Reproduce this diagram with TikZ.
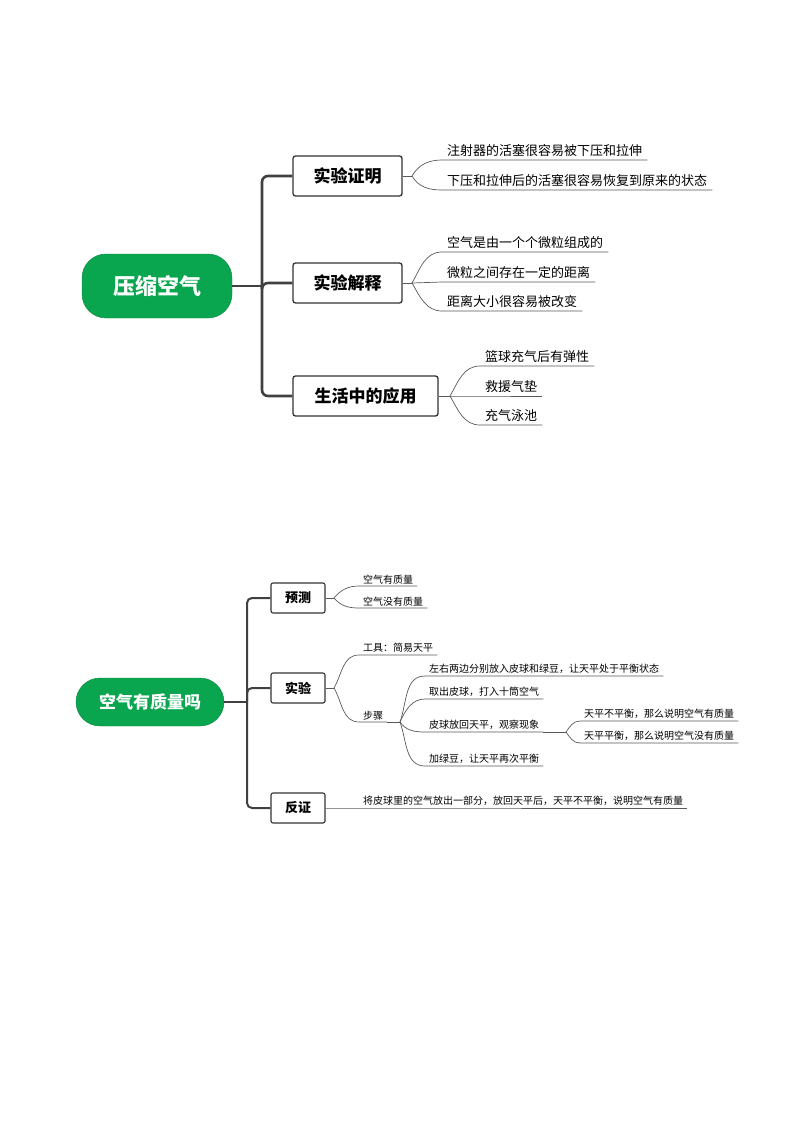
\documentclass[tikz,border=0pt]{standalone}
\usepackage{fontspec}
\setmainfont{Noto Sans CJK SC}
\begin{document}
\begin{tikzpicture}[x=1pt,y=-1pt,
 root/.style={rounded corners=24pt,fill=rootgreen,draw=rootgreen!80!black,text=white,font=\bfseries,inner sep=0pt},
 br/.style={draw=black!80,line width=1.3pt,rounded corners=2.5pt,font=\bfseries,inner sep=0pt,minimum height=40pt},
 brs/.style={draw=black!80,line width=1.1pt,rounded corners=2pt,font=\bfseries\fontsize{13}{15}\selectfont,inner sep=0pt,minimum height=30pt,minimum width=54pt},
 trunk/.style={draw=black!75,line width=2.6pt,rounded corners=6pt},
 trunks/.style={draw=black!75,line width=2pt,rounded corners=5pt},
 lk/.style={draw=black!65,line width=0.7pt},
 leaf/.style={anchor=south west,inner xsep=5pt,inner ysep=3pt,font=\fontsize{13}{15}\selectfont},
 leafs/.style={anchor=south west,inner xsep=4pt,inner ysep=2pt,font=\fontsize{10}{12}\selectfont}]
\definecolor{rootgreen}{HTML}{0AA64F}
\useasboundingbox (0,0) rectangle (794,1123);
% ===== top map
\node[root,minimum width=150pt,minimum height=64pt,font=\bfseries\fontsize{22}{26}\selectfont] (r1) at (157,286) {压缩空气};
\node[br,minimum width=109pt,font=\bfseries\fontsize{17}{20}\selectfont] (b1) at (347.5,176) {实验证明};
\node[br,minimum width=109pt,font=\bfseries\fontsize{17}{20}\selectfont] (b2) at (347.5,283) {实验解释};
\node[br,minimum width=145pt,font=\bfseries\fontsize{17}{20}\selectfont] (b3) at (365.5,396) {生活中的应用};
\coordinate (t1) at (262,286);
\draw[trunk] (r1.east) -- (t1);
\draw[trunk] (t1) |- (b1.west);
\draw[trunk] (t1) |- (b2.west);
\draw[trunk] (t1) |- (b3.west);
\coordinate (f1) at (412,176);
\coordinate (f2) at (412,283);
\coordinate (f3) at (450,396);
\node[leaf] (l11) at (442,160) {注射器的活塞很容易被下压和拉伸};
\node[leaf] (l12) at (442,190) {下压和拉伸后的活塞很容易恢复到原来的状态};
\node[leaf] (l21) at (442,252) {空气是由一个个微粒组成的};
\node[leaf] (l22) at (442,282) {微粒之间存在一定的距离};
\node[leaf] (l23) at (442,311) {距离大小很容易被改变};
\node[leaf] (l31) at (480,366) {篮球充气后有弹性};
\node[leaf] (l32) at (480,396) {救援气垫};
\node[leaf] (l33) at (480,425) {充气泳池};
\draw[lk] (b1.east) -- (f1);
\draw[lk] (b2.east) -- (f2);
\draw[lk] (b3.east) -- (f3);
\foreach \f/\l/\o in {f1/l11/60,f1/l12/-60,f2/l21/60,f2/l23/-60,f3/l31/60,f3/l33/-60}
  \draw[lk] (\f) to[out=\o,in=180] (\l.south west) -- (\l.south east);
\draw[lk] (f2) -- (l22.south west) -- (l22.south east);
\draw[lk] (f3) -- (l32.south west) -- (l32.south east);
% ===== bottom map
\node[root,minimum width=148pt,minimum height=48pt,rounded corners=24pt,font=\bfseries\fontsize{17}{20}\selectfont] (r2) at (150,702) {空气有质量吗};
\node[brs] (c1) at (298,598) {预测};
\node[brs] (c2) at (298,688) {实验};
\node[brs] (c3) at (298,808) {反证};
\coordinate (t2) at (247,702);
\draw[trunks] (r2.east) -- (t2);
\draw[trunks] (t2) |- (c1.west);
\draw[trunks] (t2) |- (c2.west);
\draw[trunks] (t2) |- (c3.west);
\coordinate (g1) at (334,598);
\coordinate (g2) at (334,688);
\node[leafs] (m11) at (359,586) {空气有质量};
\node[leafs] (m12) at (359,608) {空气没有质量};
\node[leafs] (m21) at (359,655) {工具：简易天平};
\node[leafs] (m22) at (359,722) {步骤};
\node[leafs] (s1) at (425,676) {左右两边分别放入皮球和绿豆，让天平处于平衡状态};
\node[leafs] (s2) at (425,699) {取出皮球，打入十筒空气};
\node[leafs] (s3) at (425,732) {皮球放回天平，观察现象};
\node[leafs] (s4) at (425,766) {加绿豆，让天平再次平衡};
\node[leafs] (u1) at (580,721) {天平不平衡，那么说明空气有质量};
\node[leafs] (u2) at (580,743) {天平平衡，那么说明空气没有质量};
\node[leafs] (m31) at (359,808) {将皮球里的空气放出一部分，放回天平后，天平不平衡，说明空气有质量};
\draw[lk] (c1.east) -- (g1);
\draw[lk] (c2.east) -- (g2);
\coordinate (g3) at (400,722);
\coordinate (g4) at (566,732);
\foreach \f/\l/\o in {g1/m11/50,g1/m12/-50,g2/m21/60,g2/m22/-60,g3/s1/70,g3/s2/65,g3/s3/-55,g3/s4/-70,g4/u1/55,g4/u2/-55}
  \draw[lk] (\f) to[out=\o,in=180] (\l.south west) -- (\l.south east);
\draw[lk] (m22.south east) -- (g3);
\draw[lk] (s3.south east) -- (g4);
\draw[lk] (c3.east) -- (m31.south west) -- (m31.south east);
\end{tikzpicture}
\end{document}
